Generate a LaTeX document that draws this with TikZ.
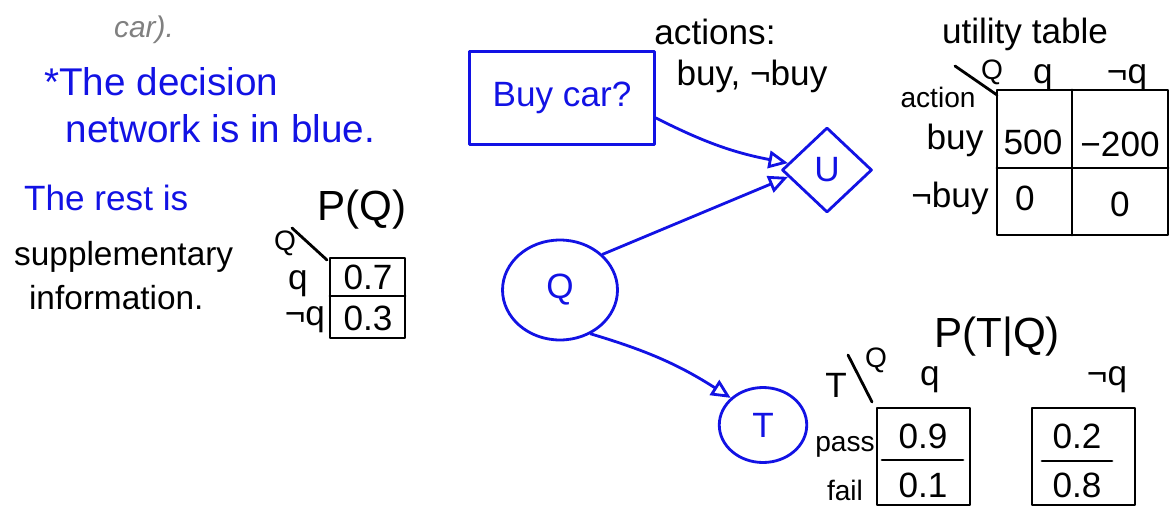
\documentclass[tikz,border=0pt]{standalone}
\usepackage{fontspec}
\setmainfont{Liberation Sans}
\usepackage{tikz}
\usetikzlibrary{arrows.meta,positioning,shapes.geometric}
\definecolor{InkBlue}{RGB}{18,18,228}
\definecolor{NoteGray}{RGB}{128,128,128}

\begin{document}
\begin{tikzpicture}[x=0.02cm,y=-0.02cm,>={Triangle[open,length=11pt,width=10pt]},
  ink/.style={line width=1.6pt,line cap=round,line join=round},
  hand/.style={font=\fontsize{20}{25}\selectfont},
  small/.style={font=\fontsize{16}{19}\selectfont},
  big/.style={font=\fontsize{24}{28}\selectfont}]
\useasboundingbox (0,0) rectangle (1172,510);
% notes on the left
\node[NoteGray,font=\fontsize{17}{20}\selectfont\itshape] (car) at (144,30) {car).};
\node[InkBlue,font=\fontsize{22}{27}\selectfont,align=left,anchor=west] (note1) at (38,105) {*The decision\\\ \ network is in blue.};
\node[InkBlue,hand,anchor=west] (note2) at (18,198) {The rest is};
\node[font=\fontsize{19}{25}\selectfont,align=left,anchor=west] (note3) at (8,276) {supplementary\\\ \,information.};
% P(Q)
\node[big] (pq) at (362,210) {P(Q)};
\draw[ink] (330,258) rectangle (405,338) (330,296)--(405,296);
\draw[ink] (292,228)--(327,260);
\node[small] (pqQ) at (285,243) {Q};
\node[hand] (pqq) at (298,284) {q};
\node[hand] (pqnq) at (305,320) {¬q};
\node[hand] (pq1) at (368,277) {0.7};
\node[hand] (pq2) at (368,318) {0.3};
% the decision network
\node[InkBlue,hand,draw,ink,minimum width=3.7cm,minimum height=1.86cm] (buy) at (562,98) {Buy car?};
\node[InkBlue,hand,draw,ink,diamond,minimum width=1.8cm,minimum height=1.7cm,inner sep=0pt] (U) at (827,170) {U};
\node[InkBlue,hand,draw,ink,ellipse,minimum width=2.3cm,minimum height=2cm] (Q) at (560,290) {Q};
\node[InkBlue,hand,draw,ink,ellipse,minimum width=1.75cm,minimum height=1.5cm] (T) at (763,425) {T};
\draw[InkBlue,ink,->] (buy.-12) to[bend right=8] (U.170);
\draw[InkBlue,ink,->] (Q.40) -- (U.190);
\draw[InkBlue,ink,->] (Q.-55) to[bend left=8] (T.140);
% actions
\node[hand] (act) at (715,32) {actions:};
\node[hand] (actv) at (752,76) {buy, ¬buy};
% utility table
\node[hand] (ut) at (1025,34) {utility table};
\draw[ink] (997,90) rectangle (1168,235) (1072,90)--(1072,235) (997,168)--(1168,168);
\draw[ink] (955,66)--(997,95);
\node[small] (utQ) at (992,72) {Q};
\node[small] (uta) at (938,97) {action};
\node[hand] (utq) at (1043,78) {q};
\node[hand] (utnq) at (1127,78) {¬q};
\node[hand] (utb) at (955,140) {buy};
\node[hand] (utnb) at (950,198) {¬buy};
\node[hand] (u1) at (1033,142) {500};
\node[hand] (u2) at (1120,144) {−200};
\node[hand] (u3) at (1025,198) {0};
\node[hand] (u4) at (1120,204) {0};
% P(T|Q)
\node[big] (ptq) at (997,337) {P(T|Q)};
\draw[ink] (848,355)--(872,402);
\node[hand] (ptT) at (836,385) {T};
\node[small] (ptQ) at (876,360) {Q};
\node[hand] (ptq1) at (930,380) {q};
\node[hand] (ptnq) at (1107,380) {¬q};
\draw[ink] (877,408) rectangle (970,505) (882,460)--(963,460);
\draw[ink] (1032,408) rectangle (1135,505) (1042,461)--(1112,461);
\node[small] (pass) at (845,447) {pass};
\node[small] (fail) at (845,490) {fail};
\node[hand] (t1) at (923,436) {0.9};
\node[hand] (t2) at (923,485) {0.1};
\node[hand] (t3) at (1077,436) {0.2};
\node[hand] (t4) at (1077,485) {0.8};
\end{tikzpicture}
\end{document}
